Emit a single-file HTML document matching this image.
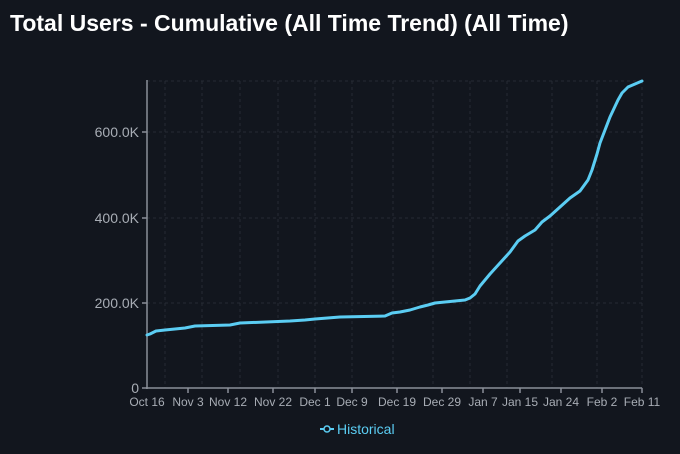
<!DOCTYPE html>
<html><head><style>
html,body{margin:0;padding:0;background:#12161e;width:680px;height:454px;overflow:hidden;font-family:"Liberation Sans",sans-serif}
svg{display:block}
</style></head><body>
<svg width="680" height="454" xmlns="http://www.w3.org/2000/svg">
<rect width="680" height="454" fill="#12161e"/>
<text x="10" y="31" fill="#ffffff" font-size="23" font-weight="bold" font-family="Liberation Sans, sans-serif">Total Users - Cumulative (All Time Trend) (All Time)</text>
<g stroke="#262b34" stroke-width="1" stroke-dasharray="3,3">
<line x1="147" y1="81" x2="642" y2="81"/>
<line x1="147" y1="132" x2="642" y2="132"/>
<line x1="147" y1="218" x2="642" y2="218"/>
<line x1="147" y1="303" x2="642" y2="303"/>
<line x1="165" y1="81" x2="165" y2="388"/>
<line x1="202" y1="81" x2="202" y2="388"/>
<line x1="240" y1="81" x2="240" y2="388"/>
<line x1="278" y1="81" x2="278" y2="388"/>
<line x1="315" y1="81" x2="315" y2="388"/>
<line x1="352" y1="81" x2="352" y2="388"/>
<line x1="393" y1="81" x2="393" y2="388"/>
<line x1="433" y1="81" x2="433" y2="388"/>
<line x1="470" y1="81" x2="470" y2="388"/>
<line x1="507" y1="81" x2="507" y2="388"/>
<line x1="552" y1="81" x2="552" y2="388"/>
<line x1="597" y1="81" x2="597" y2="388"/>
<line x1="642" y1="81" x2="642" y2="388"/>
</g>
<g stroke="#8a8f98" stroke-width="1.5">
<line x1="147" y1="80" x2="147" y2="389"/>
<line x1="146" y1="388" x2="642" y2="388"/>
<line x1="142" y1="132" x2="147" y2="132"/>
<line x1="142" y1="218" x2="147" y2="218"/>
<line x1="142" y1="303" x2="147" y2="303"/>
<line x1="142" y1="388" x2="147" y2="388"/>
<line x1="188" y1="388" x2="188" y2="393"/><line x1="228" y1="388" x2="228" y2="393"/><line x1="273" y1="388" x2="273" y2="393"/><line x1="315" y1="388" x2="315" y2="393"/><line x1="352" y1="388" x2="352" y2="393"/><line x1="397" y1="388" x2="397" y2="393"/><line x1="442" y1="388" x2="442" y2="393"/><line x1="483" y1="388" x2="483" y2="393"/><line x1="520" y1="388" x2="520" y2="393"/><line x1="561" y1="388" x2="561" y2="393"/><line x1="602" y1="388" x2="602" y2="393"/><line x1="642" y1="388" x2="642" y2="393"/>
</g>
<g fill="#a8adb5" font-size="14" text-anchor="end">
<text x="139" y="137">600.0K</text>
<text x="139" y="223">400.0K</text>
<text x="139" y="308">200.0K</text>
<text x="139" y="393">0</text>
</g>
<g fill="#a8adb5" font-size="12" text-anchor="middle">
<text x="147" y="406">Oct 16</text><text x="188" y="406">Nov 3</text><text x="228" y="406">Nov 12</text><text x="273" y="406">Nov 22</text><text x="315" y="406">Dec 1</text><text x="352" y="406">Dec 9</text><text x="397" y="406">Dec 19</text><text x="442" y="406">Dec 29</text><text x="483" y="406">Jan 7</text><text x="520" y="406">Jan 15</text><text x="561" y="406">Jan 24</text><text x="602" y="406">Feb 2</text><text x="642" y="406">Feb 11</text>
</g>
<polyline fill="none" stroke="#5bcdf3" stroke-width="3" stroke-linejoin="round" stroke-linecap="round" points="147,335 150,334 156,331 165,330 185,328 195,326 230,325 240,323 290,321 305,320 315,319 340,317 385,316 392,313 400,312 410,310 420,307 428,305 435,303 445,302 465,300 470,298 475,294 480,286 490,274 500,263 510,252 518,241 525,236 535,230 542,222 550,216 560,207 570,198 580,191 588,180 592,170 597,154 600,143 605,130 610,117 618,100 622,93 628,87 635,84 642,81"/>
<line x1="320" y1="429" x2="334" y2="429" stroke="#5bcdf3" stroke-width="2"/>
<circle cx="327" cy="429" r="3" fill="#12161e" stroke="#5bcdf3" stroke-width="1.5"/>
<text x="337" y="434" fill="#5bcdf3" font-size="14">Historical</text>
</svg>
</body></html>
